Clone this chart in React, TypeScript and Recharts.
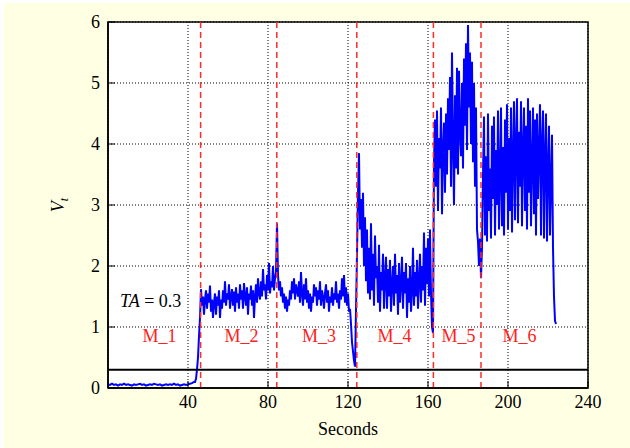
import {
  CartesianGrid,
  Line,
  LineChart,
  ReferenceArea,
  ReferenceDot,
  ReferenceLine,
  XAxis,
  YAxis,
} from "recharts";

// V_t readings, one array per stage
const m1Vals = [
  0.06, 0.05, 0.07, 0.05, 0.06, 0.04, 0.06, 0.05, 0.07, 0.05, 0.06, 0.05,
  0.04, 0.06, 0.05, 0.06, 0.07, 0.05, 0.06, 0.04, 0.05, 0.06, 0.05, 0.07,
  0.06, 0.05, 0.06, 0.04, 0.05, 0.06, 0.05, 0.06, 0.05, 0.07, 0.05, 0.06,
  0.04, 0.05, 0.06, 0.05, 0.06, 0.07, 0.08, 0.1,
];
const rampVals = [0.1, 0.15, 0.3, 0.5, 0.85, 1.15];
const m2Vals = [
  1.62, 1.35, 1.5, 1.2, 1.45, 1.6, 1.3, 1.55, 1.4, 1.68, 1.25, 1.45, 1.15, 1.4, 1.55, 1.2, 1.5, 1.35, 1.6, 1.15,
  1.45, 1.3, 1.6, 1.4, 1.75, 1.35, 1.55, 1.45, 1.7, 1.3, 1.5, 1.62, 1.35, 1.58, 1.25, 1.65, 1.4, 1.55, 1.3, 1.7,
  1.45, 1.6, 1.3, 1.72, 1.5, 1.35, 1.65, 1.2, 1.55, 1.45, 1.68, 1.35, 1.6, 1.15, 1.5, 1.7, 1.4, 1.8, 1.55, 1.45,
  1.75, 1.5, 1.95, 1.6, 1.7, 1.45, 1.85, 1.6, 2.05, 1.55, 1.75, 1.65, 2.0, 1.6, 1.8, 1.9,
];
const m3Vals = [
  2.7,
  1.85, 1.6, 1.75, 1.5, 1.65, 1.4, 1.55, 1.3, 1.5, 1.25, 1.45, 1.35, 1.6, 1.45, 1.75, 1.55, 1.8, 1.45, 1.7, 1.6,
  1.5, 1.75, 1.4, 1.9, 1.55, 1.35, 1.7, 1.45, 1.8, 1.4, 1.6, 1.3, 1.55, 1.25, 1.5, 1.4, 1.7, 1.5, 1.65, 1.35,
  1.6, 1.45, 1.75, 1.35, 1.6, 1.5, 1.3, 1.55, 1.7, 1.4, 1.6, 1.25, 1.5, 1.4, 1.65, 1.35, 1.55, 1.45, 1.75, 1.4,
  1.55, 1.3, 1.6, 1.45, 1.8, 1.5, 1.85, 1.4, 1.65, 1.35, 1.55, 1.25, 1.3, 1.05, 0.75, 0.6, 0.45, 0.35,
];
const m4Vals = [
  2.2, 3.2, 3.85, 2.6, 3.1, 2.3, 3.2, 2.0, 2.8, 1.75, 2.6, 1.55,
  2.3, 1.45, 2.7, 1.6, 2.2, 1.35, 2.5, 1.8, 2.0, 1.4, 2.35, 1.25, 1.9, 1.6, 2.2, 1.3,
  1.8, 2.15, 1.3, 1.95, 1.5, 2.1, 1.25, 1.7, 2.0, 1.35, 2.2, 1.55, 1.85, 1.2, 2.05, 1.4,
  1.7, 2.15, 1.3, 1.9, 1.55, 2.05, 1.15, 1.8, 1.4, 2.0, 1.25, 1.6, 2.3, 1.35, 1.9, 1.5,
  2.1, 1.3, 1.75, 2.2, 1.4, 2.0, 1.6, 2.55, 1.35, 2.3, 1.7, 2.45, 1.5, 2.6, 1.55, 1.0, 0.9,
];
const m5Vals = [
  3.7, 4.4, 3.3, 4.55, 2.9, 4.1, 3.6, 4.6, 2.85, 3.9, 4.35, 3.2,
  4.5, 3.5, 4.75, 3.9, 5.1, 3.3, 5.5, 4.0, 3.0, 4.8, 3.6, 5.25,
  3.5, 5.2, 4.2, 3.8, 5.0, 3.6, 5.4, 4.3, 5.65, 3.9, 5.95, 4.6,
  5.5, 4.0, 5.35, 3.7, 5.0, 3.3, 4.6, 2.6, 2.4, 2.0, 2.45, 1.8,
];
const m6Vals = [
  2.3, 3.5, 4.45, 2.5, 3.8, 2.4, 4.5, 2.9, 3.6, 2.45, 4.3, 3.1,
  4.45, 2.5, 3.9, 3.0, 4.55, 2.6, 3.5, 4.6, 2.65, 3.95, 2.5, 4.4,
  3.2, 4.65, 2.6, 4.1, 2.9, 4.6, 2.55, 3.8, 4.7, 2.75, 4.0, 4.75,
  2.7, 4.2, 3.3, 4.7, 2.65, 3.9, 4.6, 2.9, 4.3, 2.6, 4.75, 3.2,
  4.55, 2.65, 3.7, 4.6, 2.85, 4.4, 2.5, 4.5, 3.1, 3.9, 4.65, 2.5,
  4.0, 4.55, 2.45, 3.8, 4.5, 2.4, 3.6, 4.3, 2.5, 3.4, 4.15, 2.3,
  1.5, 1.1, 1.05,
];

const segments = [
  { start: 0, step: 1, vals: m1Vals },
  { start: 43.5, step: 0.5, vals: rampVals },
  { start: 46.5, step: 0.5, vals: m2Vals },
  { start: 84.5, step: 0.5, vals: m3Vals },
  { start: 124.5, step: 0.5, vals: m4Vals },
  { start: 163, step: 0.5, vals: m5Vals },
  { start: 187, step: 0.5, vals: m6Vals },
];

const data = segments.flatMap((s) =>
  s.vals.map((v, i) => ({ t: s.start + i * s.step, v })),
);

const stageBounds = [46.3, 84.4, 124.4, 162.7, 186.5];
const stageNames = ["M_1", "M_2", "M_3", "M_4", "M_5", "M_6"];
const stageLabelX = [25.8, 66.8, 105.5, 143.3, 175.3, 205.8];
const stageLabelY = 0.754;
const threshold = 0.3;

const xTicks = [40, 80, 120, 160, 200, 240];
const yTicks = [0, 1, 2, 3, 4, 5, 6];

const FONT = "'Liberation Serif', 'DejaVu Serif', serif";

const StageLabel = (name: string) => (props: any) => {
  const vb = props.viewBox || {};
  return (
    <text
      x={vb.x + (vb.width || 0) / 2}
      y={vb.y + (vb.height || 0) / 2}
      textAnchor="middle"
      fill="#ff2020"
      fontSize={18}
      fontFamily={FONT}
    >
      {name}
    </text>
  );
};

const TALabel = (props: any) => {
  const vb = props.viewBox || {};
  return (
    <text x={vb.x} y={vb.y} fill="#000" fontSize={18} fontFamily={FONT}>
      <tspan fontStyle="italic">TA</tspan>
      <tspan> = {threshold}</tspan>
    </text>
  );
};

const VLabel = (props: any) => {
  const vb = props.viewBox || {};
  const cx = vb.x + 16;
  const cy = vb.y + vb.height / 2;
  return (
    <text
      transform={`translate(${cx},${cy}) rotate(-90)`}
      textAnchor="middle"
      fill="#000"
      fontSize={18}
      fontFamily={FONT}
    >
      <tspan fontStyle="italic">V</tspan>
      <tspan fontStyle="italic" fontSize={12} dy={4}>
        t
      </tspan>
    </text>
  );
};

const SecondsLabel = (props: any) => {
  const vb = props.viewBox || {};
  return (
    <text
      x={vb.x + vb.width / 2}
      y={vb.y + 47}
      textAnchor="middle"
      fill="#000"
      fontSize={18}
      fontFamily={FONT}
    >
      Seconds
    </text>
  );
};

export default function App() {
  return (
    <div
      style={{
        position: "fixed",
        left: 0,
        top: 0,
        width: 630,
        height: 448,
        background: "#fff",
      }}
    >
      <div
        style={{
          position: "absolute",
          left: 4,
          top: 3,
          right: 0,
          bottom: 0,
          background: "#ffffe3",
        }}
      />
      <div style={{ position: "absolute", left: 0, top: 0 }}>
        <LineChart
          width={630}
          height={448}
          data={data}
          margin={{ top: 22, right: 42, bottom: 30, left: 48 }}
        >
          <CartesianGrid
            fill="#fff"
            stroke="#000"
            strokeDasharray="1 2"
            strokeWidth={1}
          />
          <XAxis
            type="number"
            dataKey="t"
            domain={[0, 240]}
            ticks={xTicks}
            height={30}
            axisLine={{ stroke: "#000", strokeWidth: 1.5 }}
            tickSize={-7}
            tickMargin={14}
            tickLine={{ stroke: "#000" }}
            tick={{ fill: "#000", fontSize: 18, fontFamily: FONT }}
            label={{ content: SecondsLabel }}
          />
          <YAxis
            type="number"
            domain={[0, 6]}
            ticks={yTicks}
            width={60}
            axisLine={{ stroke: "#000", strokeWidth: 1.5 }}
            tickSize={-7}
            tickMargin={15}
            tickLine={{ stroke: "#000" }}
            tick={{ fill: "#000", fontSize: 18, fontFamily: FONT }}
            label={{ content: VLabel }}
          />
          <ReferenceArea
            x1={0}
            x2={240}
            y1={0}
            y2={6}
            fill="none"
            stroke="#000"
            strokeWidth={1.5}
            fillOpacity={0}
          />
          <Line
            type="linear"
            dataKey="v"
            stroke="#0000ff"
            strokeWidth={2}
            dot={false}
            isAnimationActive={false}
          />
          {stageBounds.map((b) => (
            <ReferenceLine
              key={b}
              x={b}
              stroke="#ff2a2a"
              strokeWidth={1.5}
              strokeDasharray="6 4"
            />
          ))}
          <ReferenceLine y={threshold} stroke="#000" strokeWidth={2} />
          {stageNames.map((n, i) => (
            <ReferenceDot
              key={n}
              x={stageLabelX[i]}
              y={stageLabelY}
              r={0}
              fill="none"
              stroke="none"
              label={{ content: StageLabel(n) }}
            />
          ))}
          <ReferenceDot
            x={6}
            y={1.33}
            r={0}
            fill="none"
            stroke="none"
            label={{ content: TALabel }}
          />
        </LineChart>
      </div>
    </div>
  );
}
